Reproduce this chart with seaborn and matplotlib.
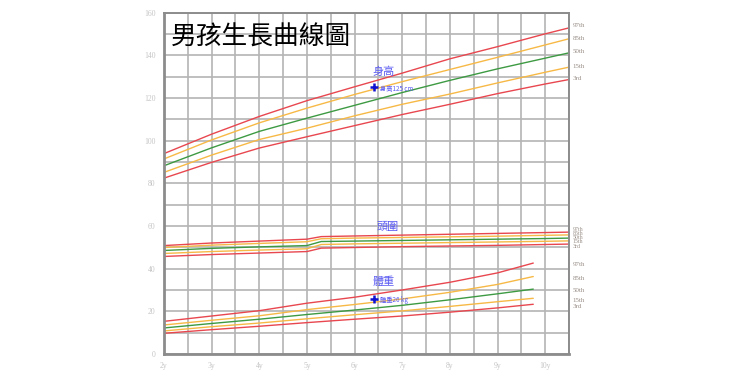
import numpy as np
import pandas as pd
import matplotlib
matplotlib.use("Agg")
import matplotlib.pyplot as plt
import seaborn as sns

# percentile curves (age in years)
pct_names = ["97th", "85th", "50th", "15th", "3rd"]

height_age = [2, 3, 4, 5, 6, 7, 8, 9, 10, 10.5]
height_97 = [93.9, 103.0, 111.3, 118.7, 125.2, 131.6, 138.3, 144.0, 150.0, 152.8]
height_85 = [91.4, 100.3, 108.3, 115.2, 121.6, 127.6, 133.3, 139.0, 144.8, 147.7]
height_50 = [88.2, 96.6, 104.3, 110.5, 116.5, 122.5, 128.2, 133.6, 138.6, 141.1]
height_15 = [85.1, 93.2, 100.5, 105.8, 111.6, 117.0, 121.8, 127.0, 132.0, 134.4]
height_03 = [82.4, 89.8, 96.5, 101.8, 107.0, 112.2, 117.0, 122.0, 126.5, 128.6]

head_age = [2, 3, 4, 5, 5.3, 6, 7, 8, 9, 10, 10.5]
head_97 = [50.8, 52.0, 52.9, 53.8, 55.0, 55.3, 55.7, 56.1, 56.5, 56.9, 57.1]
head_85 = [49.9, 51.0, 51.8, 52.6, 54.0, 54.3, 54.6, 54.9, 55.2, 55.6, 55.8]
head_50 = [48.5, 49.5, 50.2, 50.8, 52.7, 52.9, 53.2, 53.5, 53.8, 54.1, 54.3]
head_15 = [47.1, 48.0, 48.7, 49.3, 51.3, 51.6, 51.9, 52.2, 52.5, 52.8, 53.0]
head_03 = [45.7, 46.6, 47.3, 48.0, 49.6, 49.9, 50.3, 50.6, 50.9, 51.3, 51.5]

weight_age = [2, 3, 4, 5, 6, 7, 8, 9, 9.75]
weight_97 = [15.3, 17.8, 20.3, 23.8, 26.6, 30.0, 33.6, 38.0, 42.6]
weight_85 = [13.6, 15.8, 17.9, 20.8, 23.2, 25.8, 28.9, 32.6, 36.3]
weight_50 = [12.2, 14.3, 16.3, 18.5, 20.6, 22.8, 25.4, 28.2, 30.4]
weight_15 = [10.8, 12.8, 14.5, 16.5, 18.4, 20.2, 22.3, 24.5, 26.1]
weight_03 = [9.7, 11.4, 13.0, 14.7, 16.3, 17.8, 19.6, 21.6, 23.3]

# where the percentile names sit on the right
height_lab_y = [154.0, 148.0, 141.5, 134.5, 129.0]
head_lab_y = [58.2, 56.3, 54.4, 52.5, 50.6]
weight_lab_y = [41.8, 35.2, 29.6, 25.3, 22.2]

x_years = [2, 3, 4, 5, 6, 7, 8, 9, 10]
x_labels = ["2y", "3y", "4y", "5y", "6y", "7y", "8y", "9y", "10y"]

child_age = 6.4
child_height = 125
child_weight = 26

RED = "#e8474f"
ORANGE = "#f7b946"
GREEN = "#3d9a42"
BLUE_TXT = "#5a5af2"
palette = {"97th": RED, "85th": ORANGE, "50th": GREEN, "15th": ORANGE, "3rd": RED}


def to_long(ages, series):
    rows = []
    for name, vals in zip(pct_names, series):
        for a, v in zip(ages, vals):
            rows.append({"age": a, "value": v, "pct": name})
    return pd.DataFrame(rows)


measures = {
    "height": to_long(height_age, [height_97, height_85, height_50, height_15, height_03]),
    "head": to_long(head_age, [head_97, head_85, head_50, head_15, head_03]),
    "weight": to_long(weight_age, [weight_97, weight_85, weight_50, weight_15, weight_03]),
}

sns.set_style("white")
plt.rcParams["font.family"] = ["Noto Sans CJK TC", "DejaVu Sans"]

fig = plt.figure(figsize=(7.4, 3.88), dpi=100)
ax = fig.add_axes([164 / 740, 1 - 354 / 388, 405 / 740, 341.5 / 388])

for df in measures.values():
    sns.lineplot(data=df, x="age", y="value", hue="pct", palette=palette,
                 estimator=None, sort=True, linewidth=1.0, legend=False, ax=ax)

ax.set_xlim(2, 10.5)
ax.set_ylim(0, 160)
ax.set_xticks(x_years)
ax.set_xticklabels(x_labels)
ax.set_xticks(np.arange(2, 10.51, 0.5), minor=True)
ax.set_yticks(np.arange(0, 161, 20))
ax.set_yticks(np.arange(0, 161, 10), minor=True)
ax.grid(True, which="both", color="#b4b4b4", linewidth=1.2)
ax.set_axisbelow(True)
ax.set_xlabel("")
ax.set_ylabel("")
ax.tick_params(which="both", length=0, labelsize=5.5, labelcolor="#c4c4c4", pad=6)
for lab in ax.get_xticklabels() + ax.get_yticklabels():
    lab.set_family("Liberation Serif")
for side, sp in ax.spines.items():
    sp.set_color("#8c8c8c")
    sp.set_linewidth(2.0 if side in ("left", "bottom") else 1.4)

# percentile names at the right edge
lab_font = dict(fontsize=5, color="#9a8f88", family="Liberation Serif",
                va="center", ha="left", clip_on=False)
for name, yv in zip(pct_names, height_lab_y):
    ax.text(10.58, yv, name, **lab_font)
for name, yv in zip(pct_names, head_lab_y):
    ax.text(10.58, yv, name, fontsize=4.2, color="#9a8f88", family="Liberation Serif",
            va="center", ha="left", clip_on=False)
for name, yv in zip(pct_names, weight_lab_y):
    ax.text(10.58, yv, name, **lab_font)

ax.text(2.15, 148.3, "男孩生長曲線圖", fontsize=18.5, color="black",
        style="italic", va="center", ha="left")

ax.text(6.6, 132, "身高", fontsize=8, color=BLUE_TXT, ha="center", va="center")
ax.text(6.7, 59.5, "頭圍", fontsize=8, color=BLUE_TXT, ha="center", va="center")
ax.text(6.6, 34, "體重", fontsize=8, color=BLUE_TXT, ha="center", va="center")

ax.plot([child_age], [child_height], marker="+", color="#1010d0", markersize=6, mew=1.8)
ax.plot([child_age], [child_weight], marker="+", color="#1010d0", markersize=6, mew=1.8)
ax.text(child_age + 0.14, child_height - 0.8, f"身高{child_height} cm", fontsize=4.5,
        color=BLUE_TXT, va="center", ha="left")
ax.text(child_age + 0.14, child_weight - 0.8, f"體重{child_weight} kg", fontsize=4.5,
        color=BLUE_TXT, va="center", ha="left")

fig.savefig("out.png", dpi=100)
